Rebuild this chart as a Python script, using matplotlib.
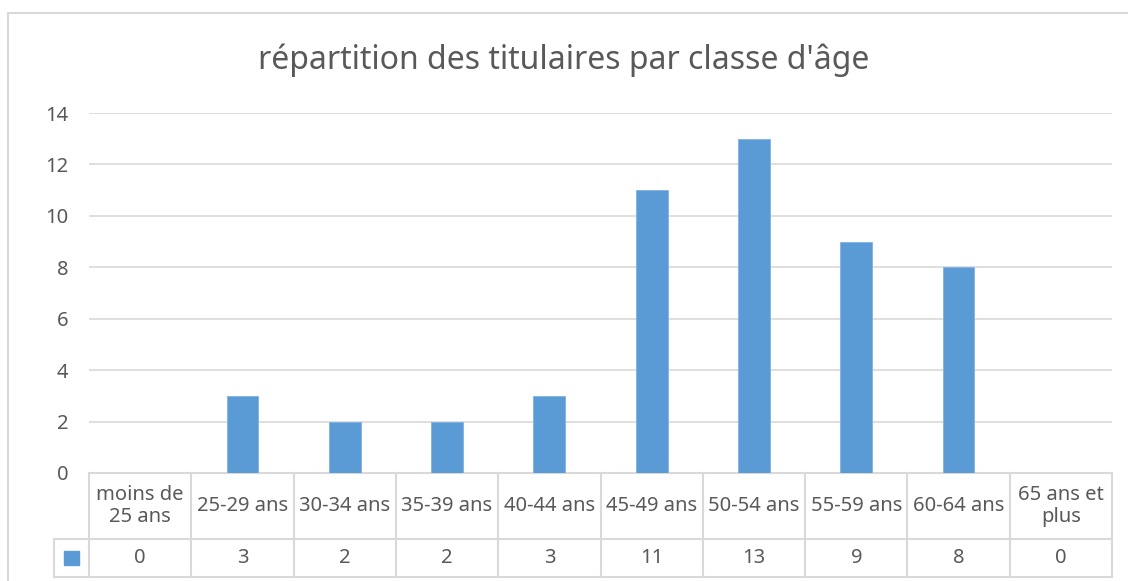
import matplotlib.pyplot as plt
from matplotlib.patches import Rectangle

categories = ['moins de\n25 ans', '25-29 ans', '30-34 ans', '35-39 ans', '40-44 ans',
              '45-49 ans', '50-54 ans', '55-59 ans', '60-64 ans', '65 ans et\nplus']
values = [0, 3, 2, 2, 3, 11, 13, 9, 8, 0]
yticks = [0, 2, 4, 6, 8, 10, 12, 14]
title = "répartition des titulaires par classe d'âge"

W, H = 1128, 581
bar_color = '#5B9BD5'
text_color = '#595959'
line_color = '#D9D9D9'
plt.rcParams['font.family'] = ['Noto Sans', 'DejaVu Sans']

fig = plt.figure(figsize=(W / 100, H / 100), dpi=100)

# chart border (right and bottom edges fall outside the picture)
fig.patches.append(Rectangle((8 / W, -0.1), 1.2, (H - 13) / H + 0.1,
                             transform=fig.transFigure, fill=False,
                             edgecolor=line_color, linewidth=1.5))

# plot area in pixels
left, right, top, bottom = 89, 1112, 113, 473
ax = fig.add_axes([left / W, (H - bottom) / H, (right - left) / W, (bottom - top) / H])

n = len(categories)
x = list(range(n))
ax.bar(x, values, width=0.31, color=bar_color, edgecolor='#7FB2E0', linewidth=0.6, zorder=3)
ax.set_xlim(-0.5, n - 0.5)
ax.set_ylim(0, 14)
ax.set_yticks(yticks)
ax.set_xticks([])
ax.tick_params(axis='y', length=0, pad=15, labelsize=14.5, labelcolor=text_color)
ax.grid(axis='y', color=line_color, linewidth=1.2, zorder=0)
for s in ax.spines.values():
    s.set_visible(False)

fig.text(0.5, (H - 60) / H, title, ha='center', va='center',
         fontsize=23, color=text_color)

# data table under the axis
plot_h = bottom - top
y0 = 0.0
y1 = -66 / plot_h
y2 = -104 / plot_h
key_x = -0.5 - 35 / ((right - left) / n)
tr = ax.get_xaxis_transform()
kw = dict(color=line_color, linewidth=1.5, transform=tr, clip_on=False, zorder=1)
ax.plot([-0.5, n - 0.5], [y0, y0], **kw)
ax.plot([key_x, n - 0.5], [y1, y1], **kw)
ax.plot([key_x, n - 0.5], [y2, y2], **kw)
ax.plot([key_x, key_x], [y1, y2], **kw)
for i in range(n + 1):
    ax.plot([i - 0.5, i - 0.5], [y0, y2], **kw)

for i, (cat, val) in enumerate(zip(categories, values)):
    ax.text(i, (y0 + y1) / 2, cat, transform=tr, ha='center', va='center',
            fontsize=14.5, color=text_color, linespacing=1.1)
    ax.text(i, (y1 + y2) / 2, str(val), transform=tr, ha='center', va='center',
            fontsize=14.5, color=text_color)

ax.add_patch(Rectangle(((key_x - 0.5) / 2 - 0.07, (y1 + y2) / 2 - 0.02), 0.14, 0.04,
                       transform=tr, clip_on=False, color=bar_color))

fig.savefig('out.png', dpi=100)
